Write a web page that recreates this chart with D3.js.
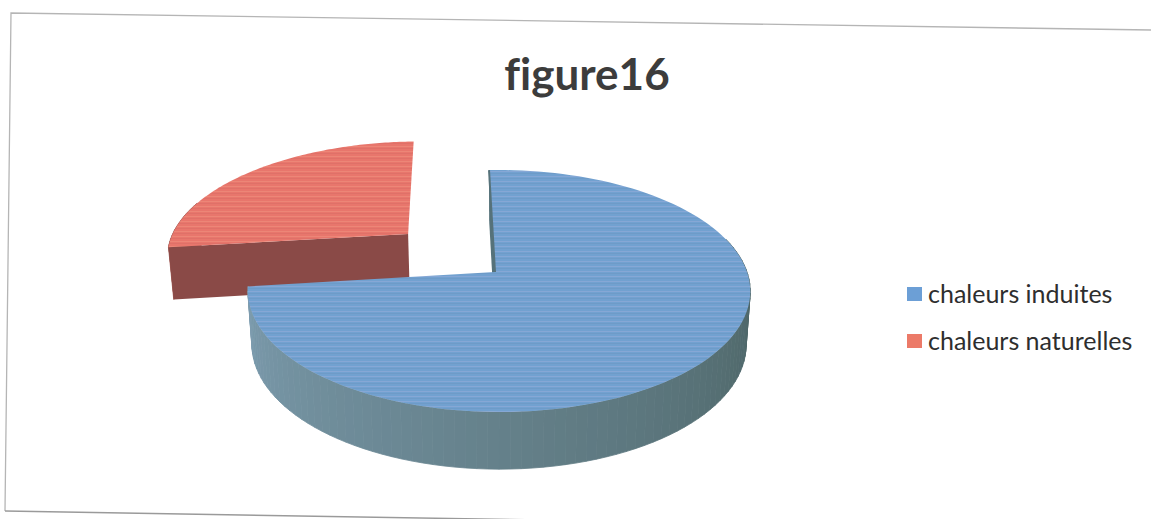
<!DOCTYPE html>
<html lang="fr">
<head>
<meta charset="utf-8">
<title>figure16</title>
<script src="https://cdn.jsdelivr.net/npm/d3@7"></script>
<style>
  html, body { margin: 0; padding: 0; background: #fff; }
  svg { display: block; }
  text { font-family: Lato, "Open Sans", sans-serif; font-variant-ligatures: none; }
</style>
</head>
<body>
<script>
// Chart content
const chartTitle = "figure16";
const categories = ["chaleurs induites", "chaleurs naturelles"];
const shares = [73.5, 26.5];

// Colours per category: top face, cut wall, outer rim (lit side, shaded side)
const topColours = ["#72a1d0", "#e8766c"];
const wallColours = ["#56727a", "#8a4a47"];
const rimLitColours = ["#7f9fb2", "#a05a55"];
const rimShadeColours = ["#4b6364", "#7a423f"];
const streakColours = ["#9db0dc", "#f29a86"];
const swatchColours = ["#6c9fd6", "#ec7a68"];

const width = 1151, height = 519;

// Slice angles come from the pie layout; the first slice starts just left of twelve o'clock.
const startOffset = -1.6 * Math.PI / 180;
const slices = d3.pie().sort(null)
  .startAngle(startOffset)
  .endAngle(startOffset + 2 * Math.PI)(shares);

// Exploded position of each slice, in units of the pie radius on the tilted plane.
const explode = [[0, 0], [-0.369, -0.339]];

// Perspective view of the tilted pie: far points shrink; the front slice also leans slightly right.
const perspectiveDepth = 0.157;
const perspectiveSide = [0.016, 0];
const topPlane = { x0: 495, y0: 272, rx: 248, ry: 118 };
const basePlane = { x0: 495, y0: 325, rx: 244, ry: 121.5 };

function project(plane, i, u, v) {
  const w = 1 - perspectiveDepth * v - perspectiveSide[i] * u;
  return [plane.x0 + plane.rx * u / w, plane.y0 + plane.ry * v / w];
}
function rimPoint(plane, i, a) {
  return project(plane, i, explode[i][0] + Math.sin(a), explode[i][1] - Math.cos(a));
}
function apexPoint(plane, i) {
  return project(plane, i, explode[i][0], explode[i][1]);
}
function angleSteps(s) {
  return d3.range(0, 121).map(k => s.startAngle + (s.endAngle - s.startAngle) * k / 120);
}

const svg = d3.select("body").append("svg")
  .attr("width", width).attr("height", height)
  .attr("viewBox", [0, 0, width, height]);

const defs = svg.append("defs");

// Fine horizontal banding laid over the pie faces
categories.forEach((c, i) => {
  const p = defs.append("pattern")
    .attr("id", "bands" + i)
    .attr("patternUnits", "userSpaceOnUse")
    .attr("width", 8).attr("height", 5);
  p.append("rect").attr("width", 8).attr("height", 5).attr("fill", topColours[i]);
  p.append("rect").attr("y", 1).attr("width", 8).attr("height", 1)
    .attr("fill", streakColours[i]).attr("opacity", 0.45);
  p.append("rect").attr("y", 3).attr("width", 8).attr("height", 1)
    .attr("fill", "#000").attr("opacity", 0.04);
});

// Chart area frame: left and top edges, and the bottom edge running off the page
svg.append("path")
  .attr("d", d3.line()([[5, 511], [11, 13], [1151, 30]]))
  .attr("fill", "none").attr("stroke", "#b5b5b5").attr("stroke-width", 1.3);
svg.append("path")
  .attr("d", d3.line()([[5, 511], [600, 521]]))
  .attr("fill", "none").attr("stroke", "#9a9a9a").attr("stroke-width", 1.5);

// Title
svg.append("text")
  .attr("x", 587).attr("y", 90)
  .attr("text-anchor", "middle")
  .attr("font-size", 44).attr("font-weight", 700)
  .attr("fill", "#3c3c3c")
  .text(chartTitle);

// The back slice is painted first, the front slice overlaps it.
const line = d3.line();
[1, 0].forEach(i => {
  const s = slices[i];
  const g = svg.append("g").attr("class", "slice-" + i);
  const steps = angleSteps(s);

  // Outer rim, shaded from the lit left side to the darker right side; back-facing parts are skipped
  const shade = d3.scaleLinear()
    .domain([1.5 * Math.PI, Math.PI, 0.5 * Math.PI])
    .range([rimLitColours[i], d3.interpolateRgb(rimLitColours[i], rimShadeColours[i])(0.5), rimShadeColours[i]])
    .clamp(true);
  d3.pairs(steps).filter(([a, b]) => Math.cos((a + b) / 2) < 0.3).forEach(([a, b]) => {
    const q = [rimPoint(topPlane, i, a), rimPoint(topPlane, i, b),
               rimPoint(basePlane, i, b), rimPoint(basePlane, i, a)];
    const norm = ((a + b) / 2 + 2 * Math.PI) % (2 * Math.PI);
    const col = shade(norm);
    g.append("path").attr("d", line(q) + "Z").attr("fill", col).attr("stroke", col).attr("stroke-width", 0.8);
  });

  // Cut wall facing the viewer
  const wall = [apexPoint(topPlane, i), rimPoint(topPlane, i, s.startAngle),
                rimPoint(basePlane, i, s.startAngle), apexPoint(basePlane, i)];
  g.append("path").attr("d", line(wall) + "Z").attr("fill", wallColours[i]);

  // Top face
  const outline = [apexPoint(topPlane, i)].concat(steps.map(a => rimPoint(topPlane, i, a)));
  g.append("path").attr("d", line(outline) + "Z").attr("fill", `url(#bands${i})`);

  // Visible sliver of the wall along the first cut of the front slice
  if (i === 0) {
    g.append("path")
      .attr("d", line([rimPoint(topPlane, i, s.startAngle), apexPoint(topPlane, i)]))
      .attr("fill", "none").attr("stroke", wallColours[i]).attr("stroke-width", 2);
  }
});

// Legend
const legendRow = d3.scalePoint().domain(categories).range([293, 340]);
const legend = svg.append("g").selectAll("g").data(categories).join("g")
  .attr("transform", d => `translate(0,${legendRow(d)})`);
legend.append("rect")
  .attr("x", 907).attr("y", -6).attr("width", 15).attr("height", 14)
  .attr("fill", (d, i) => swatchColours[i]);
legend.append("text")
  .attr("x", 928).attr("y", 10)
  .attr("font-size", 25).attr("fill", "#2e2e2e")
  .text(d => d);
</script>
</body>
</html>
